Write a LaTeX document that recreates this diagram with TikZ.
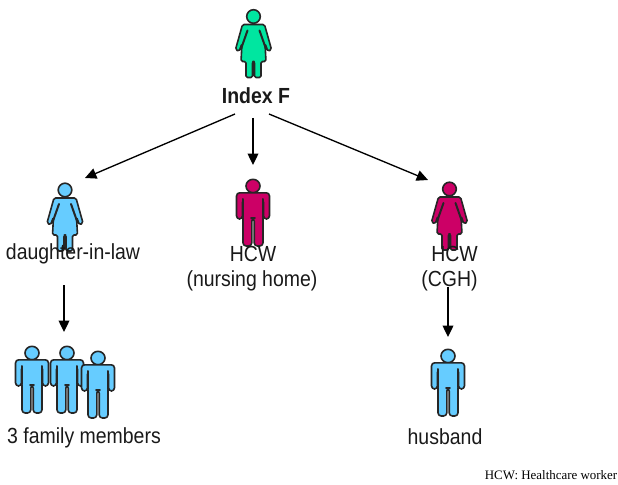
\documentclass[tikz,border=0pt]{standalone}
\usetikzlibrary{arrows.meta}
\usepackage{fontspec}
\setmainfont[FakeStretch=0.89]{Liberation Sans}
\newfontfamily\timesf{Liberation Serif}
\definecolor{mint}{HTML}{00E6A0}
\definecolor{sky}{HTML}{66CCFF}
\definecolor{crim}{HTML}{CC0066}
\tikzset{
 lbl/.style={inner sep=0pt,font=\fontsize{16.4pt}{19pt}\selectfont,align=center,text=black!90},
 conn/.style={-{Triangle[length=8.5pt,width=8pt]},line width=1pt},
 body/.style={draw=black!85,line width=1.2pt,line join=round},
 pics/woman/.style={code={
  \draw[body,fill=#1] (0,0) circle (6.8);
  \draw[body,fill=#1,rounded corners=1.2pt]
   (-11,8) -- (11,8) -- (18,33) -- (14.5,35) -- (11.5,27) -- (12.5,45) -- (7.5,45) -- (7.5,61) -- (1,61) -- (1,45) -- (-1,45) -- (-1,61) -- (-7.5,61) -- (-7.5,45) -- (-12.5,45) -- (-11.5,27) -- (-14.5,35) -- (-18,33) -- cycle;
  \draw[line width=1.5pt,black!85,line cap=round] (6,14) -- (12,31) (-6,14) -- (-12,31);
 }},
 pics/man/.style={code={
  \draw[body,fill=#1] (0,0) ellipse (7 and 6.7);
  \draw[body,fill=#1,rounded corners=2.4pt]
   (-16.5,6.8) -- (16.5,6.8) -- (16.5,33) -- (10.5,33) -- (10.5,14) -- (10,33) -- (10,60) -- (1.2,60) -- (1.2,32) -- (-1.2,32) -- (-1.2,60) -- (-10,60) -- (-10,33) -- (-10.5,14) -- (-10.5,33) -- (-16.5,33) -- cycle;
  \draw[line width=1.5pt,black!85,line cap=round] (10.2,13) -- (10.2,31) (-10.2,13) -- (-10.2,31);
 }}
}
\begin{document}
\begin{tikzpicture}[x=0.75pt,y=-0.75pt]
\useasboundingbox (0,0) rectangle (618,485);
\pic at (253.5,16.5) {woman=mint};
\pic at (65,190) {woman=sky};
\pic at (449.5,189) {woman=crim};
\pic at (253,186) {man=crim};
\pic at (32,353) {man=sky};
\pic at (67,353) {man=sky};
\pic at (98,358) {man=sky};
\pic at (448,356) {man=sky};
\node[lbl,font=\fontsize{16.4pt}{19pt}\selectfont\bfseries] (idx) at (256,96) {Index F};
\node[lbl] (dil) at (73,254) {daughter-in-law};
\begin{scope}
\clip (150,240) rectangle (350,290.5);
\node[lbl] (hcw1) at (253,254) {HCW};
\node[lbl] (nh) at (252,281) {(nursing home)};
\end{scope}
\node[lbl] (hcw2) at (454.5,254) {HCW};
\begin{scope}
\clip (400,265) rectangle (500,291);
\node[lbl] (cgh) at (449.5,281) {(CGH)};
\end{scope}
\node[lbl] (fam) at (84,438) {3 family members};
\node[lbl] (hus) at (445,437) {husband};
\node[inner sep=0pt,anchor=east,font=\timesf\fontsize{9.7pt}{11pt}\selectfont] (note) at (617.5,475) {HCW: Healthcare worker};
\coordinate (a1) at (235,114); \coordinate (b1) at (85,178);
\coordinate (a2) at (253,118); \coordinate (b2) at (253,165);
\coordinate (a3) at (269,114); \coordinate (b3) at (428,180);
\coordinate (a4) at (64,285); \coordinate (b4) at (64,332);
\coordinate (a5) at (448,287); \coordinate (b5) at (448,337);
\draw[conn] (a1) -- (b1);
\draw[conn] (a2) -- (b2);
\draw[conn] (a3) -- (b3);
\draw[conn] (a4) -- (b4);
\draw[conn] (a5) -- (b5);
\end{tikzpicture}
\end{document}
